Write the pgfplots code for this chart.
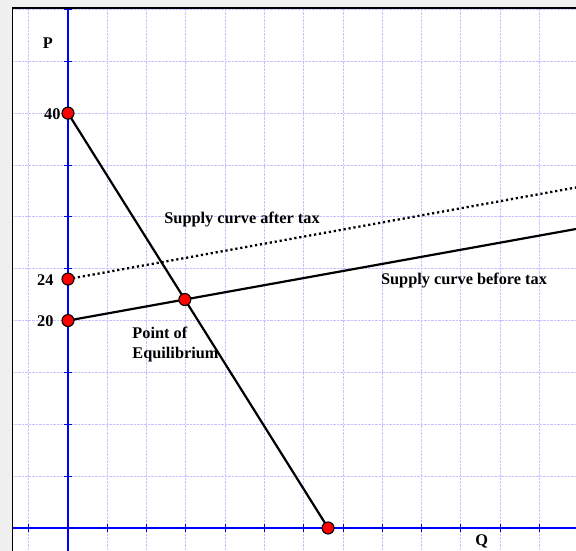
\documentclass[border=0pt]{standalone}
\usepackage{fontspec}
\setmainfont{Liberation Serif}
\usepackage{pgfplots}
\pgfplotsset{compat=1.18}
\definecolor{gridc}{RGB}{195,195,255}
\definecolor{bgc}{RGB}{240,240,240}
\newcommand{\fs}{\fontsize{16.3}{20}\selectfont\bfseries}
\begin{document}
\begin{tikzpicture}
\fill[bgc] (0,0) rectangle (576pt,551pt);
\useasboundingbox (0,0) rectangle (576pt,551pt);
\begin{axis}[
  at={(12pt,0pt)}, anchor=south west,
  scale only axis, width=564pt, height=543pt,
  xmin=-1.425, xmax=12.93, ymin=-2.22, ymax=50.14,
  axis lines=middle,
  axis line style={blue, line width=1.8pt, -},
  axis background/.style={fill=white},
  xtick={-1,0,...,12}, ytick={0,5,...,50},
  xticklabels={}, yticklabels={},
  grid=major,
  grid style={gridc, densely dotted, line width=0.8pt},
  tick style={blue, line width=1pt},
  major tick length=8pt, tick align=center,
  extra y ticks={20,24,40},
  extra y tick labels={\mbox{20\kern7pt},\mbox{24\kern7pt},\mbox{40}},
  extra y tick style={grid=none, major tick length=0pt},
  yticklabel style={font=\fs, anchor=east, xshift=-4pt, yshift=-1pt},
  /pgf/number format/assume math mode=true,
]
\addplot[black, line width=2.2pt] coordinates {(0,40) (6.62,0)};
\addplot[black, line width=2.2pt] coordinates {(0,20) (12.93,28.83)};
\addplot[black, line width=2.3pt, dash pattern=on 2.2pt off 2.8pt] coordinates {(0,24) (12.93,32.83)};
\addplot[only marks, mark=*, mark size=6pt, mark options={fill=red, draw=black, line width=1.1pt}]
  coordinates {(0,40) (0,24) (0,20) (2.974,22.03) (6.62,0)};
\draw[black, line width=2pt] (rel axis cs:0,0) -- (rel axis cs:0,1) -- (rel axis cs:1,1);
\node[font=\fs] at (axis cs:-0.51,46.77) {P};
\node[font=\fs] at (axis cs:10.53,-1.25) {Q};
\node[font=\fs] at (axis cs:4.43,29.7) {Supply curve after tax};
\node[font=\fs] at (axis cs:10.08,23.9) {Supply curve before tax};
\node[font=\fs, align=left, anchor=west] at (axis cs:1.55,17.74) {Point of\\Equilibrium};
\end{axis}
\end{tikzpicture}
\end{document}
